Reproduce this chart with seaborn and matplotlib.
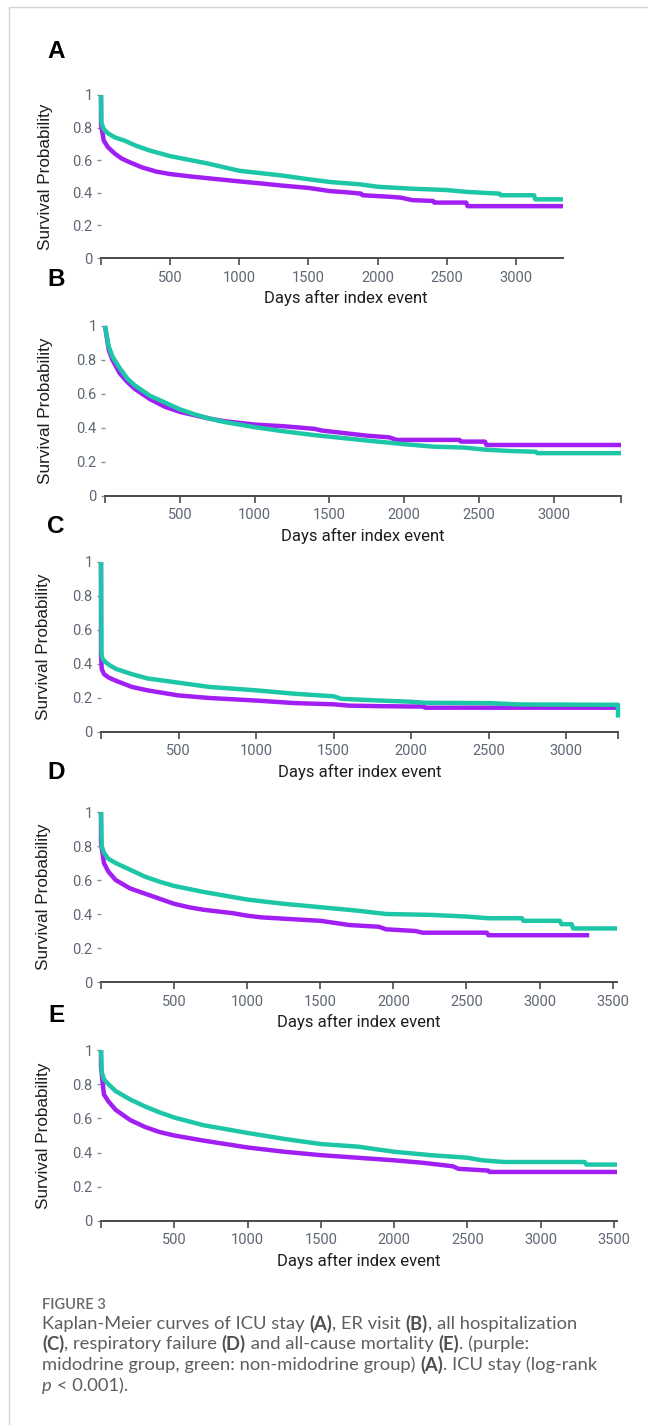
import numpy as np
import pandas as pd
import matplotlib
matplotlib.use("Agg")
import matplotlib.pyplot as plt
from matplotlib.lines import Line2D
import seaborn as sns

# ---------------- data ----------------
a_mid_days = [0, 0, 20, 50, 100, 150, 200, 300, 400, 500, 650, 800, 1000, 1150, 1300, 1500, 1660, 1750, 1880, 1890, 2100, 2170, 2250, 2400, 2410, 2640, 2650, 3340]
a_mid_surv = [1.0, 0.82, 0.72, 0.68, 0.64, 0.61, 0.59, 0.555, 0.53, 0.515, 0.50, 0.487, 0.47, 0.458, 0.445, 0.43, 0.41, 0.405, 0.395, 0.385, 0.375, 0.37, 0.355, 0.35, 0.34, 0.34, 0.318, 0.318]
a_non_days = [0, 3, 20, 50, 100, 170, 250, 350, 500, 650, 770, 1000, 1300, 1500, 1660, 1870, 2000, 2250, 2500, 2650, 2880, 2890, 3130, 3140, 3340]
a_non_surv = [1.0, 0.83, 0.79, 0.765, 0.74, 0.72, 0.69, 0.66, 0.625, 0.60, 0.58, 0.535, 0.507, 0.483, 0.466, 0.452, 0.437, 0.425, 0.417, 0.405, 0.395, 0.385, 0.385, 0.36, 0.36]

b_mid_days = [0, 25, 50, 100, 150, 200, 300, 400, 500, 600, 700, 800, 900, 1000, 1200, 1400, 1450, 1600, 1750, 1900, 1950, 2370, 2380, 2540, 2550, 3450]
b_mid_surv = [1.0, 0.86, 0.80, 0.72, 0.67, 0.63, 0.57, 0.525, 0.495, 0.475, 0.455, 0.44, 0.43, 0.42, 0.41, 0.395, 0.385, 0.37, 0.355, 0.345, 0.33, 0.33, 0.32, 0.32, 0.30, 0.30]
b_non_days = [0, 25, 50, 100, 150, 200, 300, 400, 500, 600, 700, 800, 1000, 1200, 1400, 1600, 1800, 2000, 2200, 2400, 2550, 2700, 2880, 2890, 3450]
b_non_surv = [1.0, 0.88, 0.82, 0.75, 0.69, 0.65, 0.59, 0.55, 0.51, 0.48, 0.455, 0.435, 0.405, 0.38, 0.358, 0.34, 0.322, 0.305, 0.29, 0.285, 0.272, 0.265, 0.26, 0.252, 0.252]

c_mid_days = [0, 0, 5, 20, 50, 100, 200, 300, 400, 500, 700, 1000, 1250, 1500, 1600, 1800, 2000, 2080, 2090, 3335]
c_mid_surv = [1.0, 0.45, 0.37, 0.34, 0.32, 0.30, 0.265, 0.245, 0.23, 0.215, 0.20, 0.185, 0.17, 0.163, 0.155, 0.152, 0.15, 0.15, 0.143, 0.143]
c_non_days = [0, 3, 10, 30, 60, 100, 200, 300, 500, 700, 1000, 1250, 1500, 1550, 1800, 2000, 2080, 2500, 2700, 3320, 3335, 3335]
c_non_surv = [1.0, 0.46, 0.43, 0.41, 0.39, 0.37, 0.34, 0.315, 0.29, 0.265, 0.245, 0.225, 0.21, 0.195, 0.185, 0.178, 0.172, 0.17, 0.162, 0.16, 0.16, 0.085]

d_mid_days = [0, 0, 20, 50, 100, 200, 300, 400, 500, 600, 700, 900, 1000, 1100, 1300, 1500, 1580, 1700, 1900, 1950, 2150, 2200, 2640, 2650, 3340]
d_mid_surv = [1.0, 0.82, 0.70, 0.65, 0.60, 0.55, 0.52, 0.49, 0.46, 0.44, 0.425, 0.405, 0.39, 0.38, 0.37, 0.36, 0.35, 0.335, 0.325, 0.31, 0.30, 0.29, 0.29, 0.275, 0.275]
d_non_days = [0, 5, 20, 50, 100, 200, 300, 400, 500, 700, 1000, 1250, 1500, 1750, 1950, 2250, 2500, 2650, 2880, 2890, 3140, 3150, 3220, 3230, 3530]
d_non_surv = [1.0, 0.80, 0.76, 0.725, 0.70, 0.66, 0.62, 0.59, 0.565, 0.53, 0.485, 0.46, 0.44, 0.42, 0.40, 0.395, 0.385, 0.375, 0.375, 0.36, 0.36, 0.34, 0.34, 0.315, 0.315]

e_mid_days = [0, 0, 20, 50, 100, 200, 300, 400, 500, 700, 1000, 1250, 1500, 1750, 2000, 2200, 2300, 2400, 2440, 2640, 2650, 3520]
e_mid_surv = [1.0, 0.90, 0.74, 0.70, 0.65, 0.59, 0.55, 0.52, 0.50, 0.47, 0.43, 0.405, 0.385, 0.37, 0.355, 0.34, 0.33, 0.32, 0.305, 0.295, 0.287, 0.287]
e_non_days = [0, 5, 20, 50, 100, 200, 300, 400, 500, 700, 1000, 1250, 1500, 1750, 2000, 2250, 2500, 2600, 2750, 3300, 3310, 3520]
e_non_surv = [1.0, 0.87, 0.83, 0.80, 0.76, 0.71, 0.67, 0.635, 0.605, 0.56, 0.515, 0.48, 0.45, 0.435, 0.405, 0.385, 0.37, 0.355, 0.345, 0.345, 0.33, 0.33]

panel_letters = ["A", "B", "C", "D", "E"]
x_max = [3340, 3450, 3335, 3530, 3520]
x_tick_top = [3000, 3000, 3000, 3500, 3500]
y_ticks = [0, 0.2, 0.4, 0.6, 0.8, 1.0]
y_tick_labels = ["0", "0.2", "0.4", "0.6", "0.8", "1"]
x_label = "Days after index event"
y_label = "Survival Probability"

series = [
    (a_mid_days, a_mid_surv, a_non_days, a_non_surv),
    (b_mid_days, b_mid_surv, b_non_days, b_non_surv),
    (c_mid_days, c_mid_surv, c_non_days, c_non_surv),
    (d_mid_days, d_mid_surv, d_non_days, d_non_surv),
    (e_mid_days, e_mid_surv, e_non_days, e_non_surv),
]

PURPLE = "#a21ff3"
TEAL = "#1dc6a6"

# ---------------- layout (pixels) ----------------
W, H = 648, 1425
boxes = [
    (101, 563, 95, 258),
    (105, 621, 326, 496),
    (101, 618, 562, 732),
    (101, 617, 812, 982),
    (101, 617, 1050, 1221),
]
letter_y = [51, 280, 527, 772, 1015]
ylabel_x = [46, 46, 44, 44, 44]
xlabel_cx = [346, 363, 360, 359, 359]

sns.set_theme(style="white")
plt.rcParams["font.family"] = ["Roboto", "DejaVu Sans"]

fig = plt.figure(figsize=(W / 100, H / 100), dpi=100)
fig.patch.set_facecolor("white")

for i, (l, r, t, b) in enumerate(boxes):
    ax = fig.add_axes([l / W, 1 - b / H, (r - l) / W, (b - t) / H])
    ax.set_facecolor("white")
    md, ms, nd, ns = series[i]
    df_m = pd.DataFrame({"days": md, "surv": ms})
    df_n = pd.DataFrame({"days": nd, "surv": ns})
    sns.lineplot(data=df_m, x="days", y="surv", ax=ax, color=PURPLE, linewidth=3.2,
                 estimator=None, sort=False, clip_on=False, solid_capstyle="butt")
    sns.lineplot(data=df_n, x="days", y="surv", ax=ax, color=TEAL, linewidth=3.2,
                 estimator=None, sort=False, clip_on=False, solid_capstyle="butt")
    ax.set_xlim(0, x_max[i])
    ax.set_ylim(0, 1)
    xt = list(range(0, x_tick_top[i] + 1, 500))
    xl = [""] + [str(v) for v in xt[1:]]
    if i in (1, 2):
        xt = xt + [x_max[i]]
        xl = xl + [""]
    ax.set_xticks(xt)
    ax.set_xticklabels(xl)
    ax.set_yticks(y_ticks)
    ax.set_yticklabels(y_tick_labels)
    for s in ("top", "right", "left"):
        ax.spines[s].set_visible(False)
    ax.spines["bottom"].set_color("#4a4a4a")
    ax.spines["bottom"].set_linewidth(1.4)
    ax.tick_params(axis="x", direction="out", length=5, width=1.2, color="#4a4a4a",
                   labelcolor="#5f6774", labelsize=10.5, pad=4, bottom=True)
    ax.tick_params(axis="y", direction="out", length=3, width=1.0, color="#8a8f98",
                   labelcolor="#5f6774", labelsize=10.5, pad=3, left=True)
    for lab in ax.get_xticklabels() + ax.get_yticklabels():
        lab.set_family(["Roboto", "DejaVu Sans"])
    ax.grid(False)
    axw = r - l
    axh = b - t
    ax.set_xlabel(x_label, fontsize=12, color="#1e1e1e", family=["Roboto", "DejaVu Sans"], va="center")
    ax.xaxis.set_label_coords((xlabel_cx[i] - l) / axw, -40 / axh)
    ax.set_ylabel(y_label, fontsize=12.3, color="#1e1e1e", family=["Liberation Sans", "DejaVu Sans"], va="center")
    ax.yaxis.set_label_coords((ylabel_x[i] - l) / axw, 0.5)
    fig.text(56 / W, 1 - letter_y[i] / H, panel_letters[i], fontsize=17.5, fontweight="bold",
             family=["Liberation Sans", "DejaVu Sans"], color="black", ha="center", va="center")

# frame lines (light grey border of the figure panel)
fig.add_artist(Line2D([9 / W, 1.0], [1 - 7 / H, 1 - 7 / H], transform=fig.transFigure, color="#d4d4d4", lw=1.0))
fig.add_artist(Line2D([9 / W, 9 / W], [1 - 7 / H, 0.0], transform=fig.transFigure, color="#d4d4d4", lw=1.0))

# ---------------- caption ----------------
renderer = fig.canvas.get_renderer()
CAP_COLOR = "#5e5e5e"
CAP_SIZE = 13.2
CAP_FAMILY = ["Lato", "DejaVu Sans"]


def seg_width(s, weight, style):
    t1 = fig.text(0, 0, s + "x", fontsize=CAP_SIZE, fontweight=weight, style=style, family=CAP_FAMILY)
    t2 = fig.text(0, 0, "x", fontsize=CAP_SIZE, fontweight=weight, style=style, family=CAP_FAMILY)
    w = t1.get_window_extent(renderer).width - t2.get_window_extent(renderer).width
    t1.remove()
    t2.remove()
    return w


def rich_line(x_px, y_px, segs):
    x = x_px
    for s, weight, style in segs:
        col = "#505050" if weight == "bold" else CAP_COLOR
        fig.text(x / W, 1 - y_px / H, s, fontsize=CAP_SIZE, fontweight=weight, style=style,
                 family=CAP_FAMILY, color=col, ha="left", va="center")
        x += seg_width(s, weight, style)


fig.text(42 / W, 1 - 1305 / H, "FIGURE 3", fontsize=10.5, fontweight="semibold",
         family=CAP_FAMILY, color="#6a6a6a", ha="left", va="center")
N, B, I = "normal", "bold", "italic"
lines = [
    [("Kaplan-Meier curves of ICU stay ", N, N), ("(A)", B, N), (", ER visit ", N, N), ("(B)", B, N), (", all hospitalization", N, N)],
    [("(C)", B, N), (", respiratory failure ", N, N), ("(D)", B, N), (" and all-cause mortality ", N, N), ("(E)", B, N), (". (purple:", N, N)],
    [("midodrine group, green: non-midodrine group) ", N, N), ("(A)", B, N), (". ICU stay (log-rank", N, N)],
    [("p", N, I), (" < 0.001).", N, N)],
]
line_y = [1324, 1344, 1365, 1386]
for ly, segs in zip(line_y, lines):
    rich_line(42, ly, segs)

fig.savefig("out.png", dpi=100, facecolor="white")
